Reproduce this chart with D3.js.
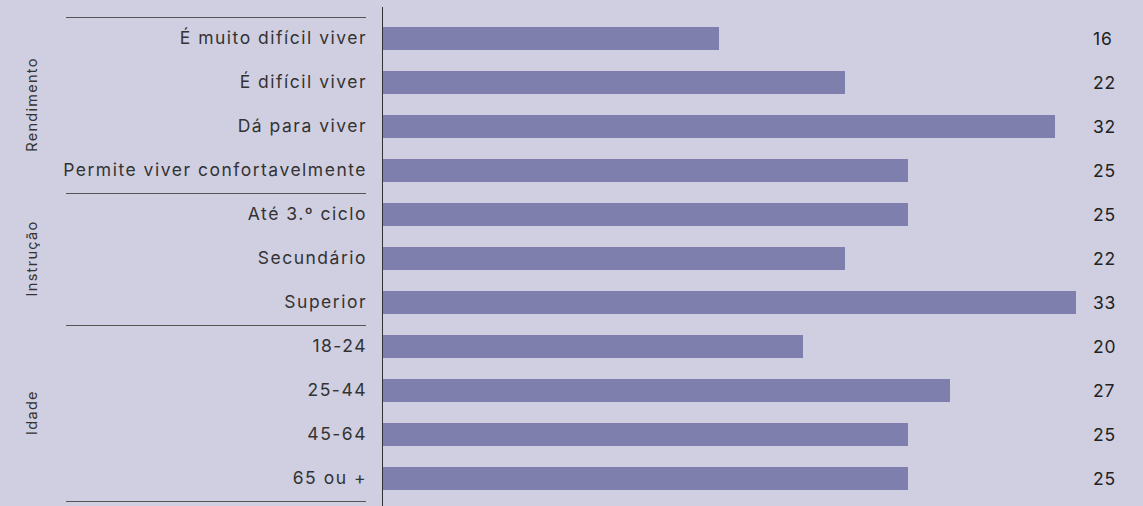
<!DOCTYPE html>
<html>
<head>
<meta charset="utf-8">
<title>Barras</title>
<script src="https://cdn.jsdelivr.net/npm/d3@7"></script>
<style>
  html, body { margin: 0; padding: 0; background: #d0cfe2; }
  svg { display: block; }
</style>
</head>
<body>
<script>
var categories = ["É muito difícil viver", "É difícil viver", "Dá para viver", "Permite viver confortavelmente",
                  "Até 3.º ciclo", "Secundário", "Superior",
                  "18-24", "25-44", "45-64", "65 ou +"];
var values = [16, 22, 32, 25, 25, 22, 33, 20, 27, 25, 25];
var groups = ["Rendimento", "Instrução", "Idade"];
var groupStart = [0, 4, 7];
var groupEnd = [3, 6, 10];

var w = 1143, h = 506;
var bg = "#d0cfe2", barColor = "#7f7fae";
var font = "Inter, 'Open Sans', sans-serif";

var svg = d3.select("body").append("svg")
  .attr("width", w)
  .attr("height", h);

svg.append("rect").attr("width", w).attr("height", h).attr("fill", bg);

var xScale = d3.scaleLinear()
  .domain([0, 33])
  .range([383, 1076]);

var yScale = d3.scaleBand()
  .domain(categories)
  .range([16.5, 500.5])
  .paddingInner(21 / 44)
  .paddingOuter(21 / 88);

var step = yScale.step();
var half = (step - yScale.bandwidth()) / 2;

// barras
svg.selectAll("rect.bar")
  .data(categories)
  .enter().append("rect")
  .attr("class", "bar")
  .attr("x", xScale(0))
  .attr("y", function(d) { return yScale(d); })
  .attr("width", function(d, i) { return xScale(values[i]) - xScale(0); })
  .attr("height", yScale.bandwidth())
  .attr("fill", barColor);

// eixo vertical
var yAxis = d3.axisLeft(yScale).tickSize(0).tickPadding(16);
var gy = svg.append("g")
  .attr("transform", "translate(" + xScale(0) + ",0)")
  .call(yAxis);
gy.select(".domain").remove();
gy.selectAll("text")
  .attr("font-family", font)
  .attr("font-size", "17.5px")
  .attr("letter-spacing", "1.5px")
  .attr("fill", "#333");

svg.append("line")
  .attr("x1", xScale(0) - 0.5).attr("x2", xScale(0) - 0.5)
  .attr("y1", 7).attr("y2", h)
  .attr("stroke", "#333")
  .attr("stroke-width", 1);

// valores
svg.selectAll("text.val")
  .data(categories)
  .enter().append("text")
  .attr("class", "val")
  .attr("x", 1093)
  .attr("y", function(d) { return yScale(d) + yScale.bandwidth() / 2; })
  .attr("dy", "0.35em")
  .attr("font-family", font)
  .attr("font-size", "17.5px")
  .attr("letter-spacing", "0.8px")
  .attr("fill", "#222")
  .text(function(d, i) { return values[i]; });

// separadores dos grupos
var seps = [yScale(categories[0]) - half];
for (var i = 0; i < groups.length; i++) {
  seps.push(yScale(categories[groupEnd[i]]) + yScale.bandwidth() + half);
}
svg.selectAll("line.sep")
  .data(seps)
  .enter().append("line")
  .attr("class", "sep")
  .attr("x1", 66).attr("x2", 366)
  .attr("y1", function(d) { return Math.round(d) + 0.5; })
  .attr("y2", function(d) { return Math.round(d) + 0.5; })
  .attr("stroke", "#555")
  .attr("stroke-width", 1.2);

// rótulos dos grupos
for (var i = 0; i < groups.length; i++) {
  var y0 = yScale(categories[groupStart[i]]) - half;
  var y1 = yScale(categories[groupEnd[i]]) + yScale.bandwidth() + half;
  var cy = (y0 + y1) / 2;
  svg.append("text")
    .attr("transform", "translate(37," + cy + ") rotate(-90)")
    .attr("text-anchor", "middle")
    .attr("font-family", font)
    .attr("font-size", "14.5px")
    .attr("letter-spacing", "1.3px")
    .attr("fill", "#333")
    .text(groups[i]);
}
</script>
</body>
</html>
